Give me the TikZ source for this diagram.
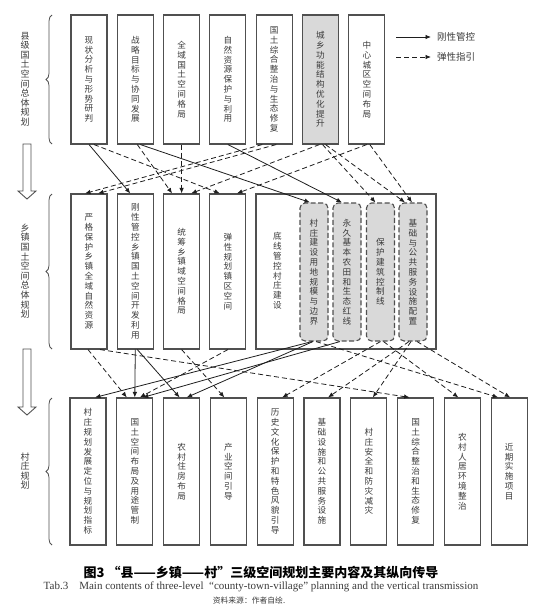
\documentclass[tikz,border=0pt]{standalone}
\usepackage{fontspec}
\newfontfamily\cjk{Noto Sans CJK SC}
\newfontfamily\entimes{Liberation Serif}
\usetikzlibrary{arrows.meta,decorations.pathreplacing}
\definecolor{boxline}{HTML}{505050}
\definecolor{lin}{HTML}{1E1E1E}
\definecolor{fillgray}{HTML}{D9D9D9}
\definecolor{txt}{HTML}{3A3A3A}
\ExplSyntaxOn
\NewDocumentCommand\colchars{m}
 {
  \seq_clear:N \l_tmpa_seq
  \tl_map_inline:nn {#1} { \seq_put_right:Nn \l_tmpa_seq {##1} }
  \seq_use:Nn \l_tmpa_seq { \\ }
 }
\ExplSyntaxOff
\begin{document}
\begin{tikzpicture}[x=1pt,y=-1pt,
  plan/.style={draw=boxline,line width=1.1pt,inner sep=0pt,minimum width=36pt,text=txt,align=center,font=\cjk\fontsize{8.6}{9.8}\selectfont},
  toprow/.style={plan,minimum height=129pt},
  midrow/.style={plan,minimum height=155pt},
  lowrow/.style={plan,minimum height=147pt},
  core/.style={plan,fill=fillgray,dash pattern=on 5pt off 2.5pt,rounded corners=5pt,minimum width=28pt,minimum height=138pt},
  levellabel/.style={text=txt,align=center,font=\cjk\fontsize{9}{9.6}\selectfont},
  ctrlline/.style={draw=lin,line width=0.8pt,-{Latex[length=5.5pt,width=4.5pt]}},
  guideline/.style={ctrlline,dash pattern=on 5pt off 3pt},
  levelbrace/.style={draw=boxline,line width=0.8pt,decorate,decoration={brace,amplitude=6pt}},
  hollowarrow/.style={draw=boxline,line width=0.9pt,fill=white}]
\useasboundingbox (0,0) rectangle (546,613);

\node[levellabel] (lab1) at (25,79) {\colchars{县级国土空间总体规划}};
\node[levellabel] (lab2) at (25,271) {\colchars{乡镇国土空间总体规划}};
\node[levellabel] (lab3) at (25,471) {\colchars{村庄规划}};
\draw[levelbrace] (52,144) -- (52,15);
\draw[levelbrace] (52,349) -- (52,194);
\draw[levelbrace] (52,545) -- (52,398);
\draw[hollowarrow] (23,144) -- (31,144) -- (31,191) -- (36,191) -- (27,199) -- (18,191) -- (23,191) -- cycle;
\draw[hollowarrow] (23,349) -- (31,349) -- (31,407) -- (36,407) -- (27,415) -- (18,407) -- (23,407) -- cycle;

\node[toprow] (t1) at (89,79.5) {\colchars{现状分析与形势研判}};
\node[toprow] (t2) at (135.3,79.5) {\colchars{战略目标与协同发展}};
\node[toprow] (t3) at (181.6,79.5) {\colchars{全域国土空间格局}};
\node[toprow] (t4) at (227.9,79.5) {\colchars{自然资源保护与利用}};
\node[toprow] (t5) at (274.2,79.5) {\colchars{国土综合整治与生态修复}};
\node[toprow,fill=fillgray] (t6) at (320.5,79.5) {\colchars{城乡功能结构优化提升}};
\node[toprow] (t7) at (366.8,79.5) {\colchars{中心城区空间布局}};

\coordinate (leg1a) at (396,37);
\coordinate (leg1b) at (431,37);
\coordinate (leg2a) at (396,57);
\coordinate (leg2b) at (431,57);
\draw[ctrlline] (leg1a) -- (leg1b);
\draw[guideline] (leg2a) -- (leg2b);
\node[anchor=west,inner sep=0pt,text=txt,font=\cjk\fontsize{9.5}{10}\selectfont] (leg1) at (437,37) {刚性管控};
\node[anchor=west,inner sep=0pt,text=txt,font=\cjk\fontsize{9.5}{10}\selectfont] (leg2) at (437,57) {弹性指引};

\node[midrow] (m1) at (89,271.5) {\colchars{严格保护乡镇全域自然资源}};
\node[midrow] (m2) at (135.3,271.5) {\colchars{刚性管控乡镇国土空间开发利用}};
\node[midrow] (m3) at (181.6,271.5) {\colchars{统筹乡镇域空间格局}};
\node[midrow] (m4) at (227.9,271.5) {\colchars{弹性规划镇区空间}};
\node[midrow,minimum width=180pt] (m5) at (346,271.5) {};
\node[plan,draw=none] (m5t) at (277.5,271) {\colchars{底线管控村庄建设}};
\node[core] (g1) at (314,272) {\colchars{村庄建设用地规模与边界}};
\node[core] (g2) at (347,272) {\colchars{永久基本农田和生态红线}};
\node[core] (g3) at (380.5,272) {\colchars{保护建筑控制线}};
\node[core] (g4) at (413,272) {\colchars{基础与公共服务设施配置}};

\node[lowrow] (b1) at (88,471.5) {\colchars{村庄规划发展定位与规划指标}};
\node[lowrow] (b2) at (134.8,471.5) {\colchars{国土空间布局及用途管制}};
\node[lowrow] (b3) at (181.6,471.5) {\colchars{农村住房布局}};
\node[lowrow] (b4) at (228.4,471.5) {\colchars{产业空间引导}};
\node[lowrow] (b5) at (275.2,471.5) {\colchars{历史文化保护和特色风貌引导}};
\node[lowrow] (b6) at (322,471.5) {\colchars{基础设施和公共服务设施}};
\node[lowrow] (b7) at (368.8,471.5) {\colchars{村庄安全和防灾减灾}};
\node[lowrow] (b8) at (415.6,471.5) {\colchars{国土综合整治和生态修复}};
\node[lowrow] (b9) at (462.4,471.5) {\colchars{农村人居环境整治}};
\node[lowrow] (b10) at (509.2,471.5) {\colchars{近期实施项目}};

\draw[ctrlline] (t1.south) -- ([xshift=-5pt]m2.north);
\draw[guideline] ([xshift=5pt]t1.south) -- ([xshift=-8pt]m4.north);
\draw[guideline] ([xshift=2pt]t2.south) -- ([xshift=-9.5pt]m3.north);
\draw[ctrlline] ([xshift=5pt]t2.south) -- ([xshift=-4pt]g1.north);
\draw[guideline] (t3.south) -- (m3.north);
\draw[ctrlline] (t4.south) -- ([xshift=-5pt]g2.north);
\draw[guideline] ([xshift=-12pt]t5.south) -- ([xshift=-4pt]m1.north);
\draw[guideline] ([xshift=2pt]t5.south) -- ([xshift=9pt]m1.north);
\draw[guideline] ([xshift=-1pt]t6.south) -- ([xshift=9.5pt]m3.north);
\draw[guideline] ([xshift=2pt]t6.south) -- ([xshift=-5pt]g3.north);
\draw[guideline] ([xshift=5pt]t6.south) -- ([xshift=-8pt]g4.north);
\draw[guideline] (t7.south) -- ([xshift=9pt]m4.north);
\draw[guideline] ([xshift=3pt]t7.south) -- ([xshift=-1pt]g4.north);

\draw[guideline] ([xshift=-1pt]m1.south) -- ([xshift=-8pt]b2.north);
\draw[guideline] ([xshift=11pt]m1.south) -- ([xshift=-6pt]b8.north);
\draw[ctrlline] (m2.south) -- (b2.north);
\draw[ctrlline] ([xshift=2pt]m2.south) -- ([xshift=-2pt]b3.north);
\draw[guideline] (m3.south) -- ([xshift=-4pt]b4.north);
\draw[guideline] (m4.south) -- ([xshift=5pt]b2.north);
\draw[ctrlline] ([xshift=-2pt]g1.south) -- ([xshift=7pt]b1.north);
\draw[ctrlline] ([xshift=-1pt]g1.south) -- ([xshift=5pt]b3.north);
\draw[ctrlline] ([xshift=-7pt]g2.south) -- ([xshift=8pt]b2.north);
\draw[guideline] (g3.south) -- ([xshift=7pt]b5.north);
\draw[guideline] ([xshift=3pt]g3.south) -- ([xshift=-4pt]b9.north);
\draw[guideline] ([xshift=-4pt]g4.south) -- ([xshift=6pt]b6.north);
\draw[guideline] ([xshift=-2pt]g4.south) -- ([xshift=4pt]b7.north);
\draw[guideline] ([xshift=2pt]g1.south) -- ([xshift=-11pt]b10.north);
\draw[guideline] ([xshift=4pt]g4.south) -- ([xshift=1pt]b10.north);

\node[font=\cjk\bfseries\fontsize{13}{14}\selectfont] (cap) at (261,572) {图3\ “县——乡镇——村”三级空间规划主要内容及其纵向传导};
\node[font=\entimes\fontsize{11}{12}\selectfont,text=txt] (capen) at (261,587) {Tab.3\quad Main contents of three-level \ “county-town-village” planning and the vertical transmission};
\node[font=\cjk\fontsize{7.8}{8}\selectfont,text=txt] (src) at (249,601) {资料来源：作者自绘.};
\end{tikzpicture}
\end{document}
